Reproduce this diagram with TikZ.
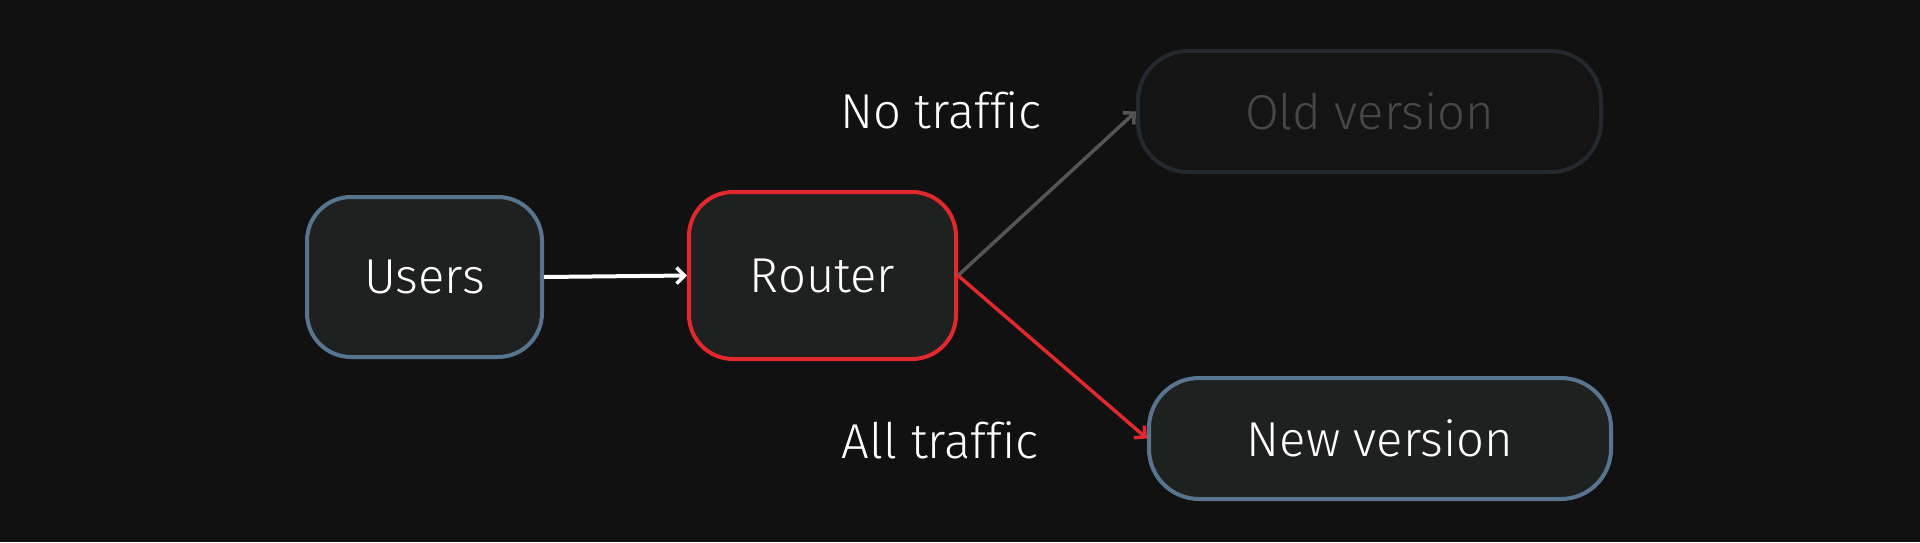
\documentclass[tikz,border=0pt]{standalone}
\usepackage{fontspec}
\setmainfont{Fira Sans}[UprightFont=* Light, Ligatures=CommonOff]
\usetikzlibrary{arrows.meta}
\definecolor{bg}{HTML}{111111}
\definecolor{boxfill}{HTML}{1F2121}
\definecolor{blueborder}{HTML}{587590}
\definecolor{redline}{HTML}{E0282D}
\definecolor{grayline}{HTML}{555555}
\definecolor{oldborder}{HTML}{23292F}
\definecolor{oldfill}{HTML}{141414}
\definecolor{oldtext}{HTML}{474747}
\tikzset{
  box/.style={draw, line width=4pt, rounded corners=44pt, fill=boxfill, text=white,
    inner sep=0pt, font=\fontsize{49}{53}\selectfont},
  lbl/.style={text=white, inner sep=0pt, font=\fontsize{49}{53}\selectfont},
  conn/.style={line width=3.5pt, -{Straight Barb[length=8pt,width=16pt,line width=3.5pt]}},
}
\begin{document}
\begin{tikzpicture}[x=1pt,y=-1pt]
\fill[bg] (0,0) rectangle (1920,542);
\useasboundingbox (0,0) rectangle (1920,542);
\node[box, draw=blueborder, minimum width=235pt, minimum height=160pt] (users) at (424.5,277) {Users};
\node[box, draw=redline, minimum width=267pt, minimum height=167pt] (router) at (822.5,275.5) {Router};
\node[box, draw=oldborder, fill=oldfill, text=oldtext, rounded corners=50pt, minimum width=463pt, minimum height=121pt] (old) at (1369.5,111.5) {Old version};
\node[box, draw=blueborder, rounded corners=50pt, minimum width=462pt, minimum height=121pt] (new) at (1380,438.5) {New version};
\node[lbl] (notraffic) at (941,110) {No traffic};
\node[lbl] (alltraffic) at (940,440) {All traffic};
\draw[conn, white, line width=4pt] (users.east) -- (router.west);
\draw[conn, grayline] (router.east) -- (old.west);
\draw[conn, redline] (router.east) -- (new.west);
\end{tikzpicture}
\end{document}
